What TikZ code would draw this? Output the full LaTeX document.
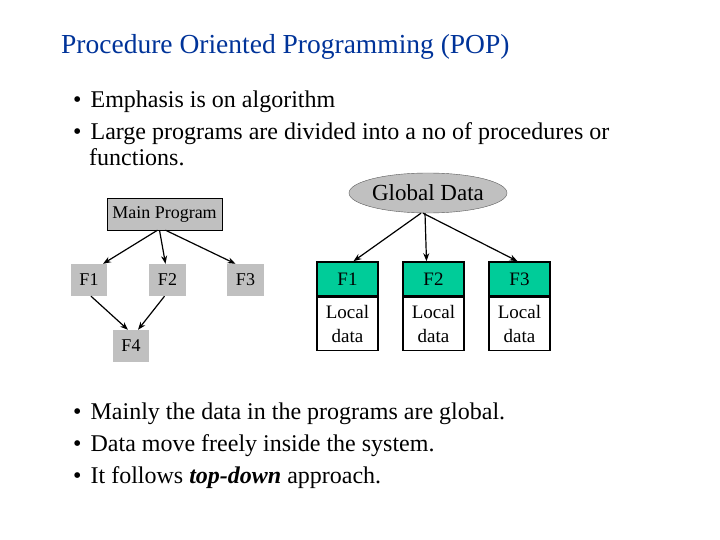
\documentclass[tikz,border=0pt]{standalone}
\usepackage{fontspec}
\setmainfont{Liberation Serif}
\usetikzlibrary{arrows.meta,shapes.geometric}
\definecolor{titleblue}{RGB}{0,51,153}
\definecolor{boxgray}{RGB}{192,192,192}
\definecolor{fgreen}{RGB}{0,204,153}
\begin{document}
\begin{tikzpicture}[x=1pt,y=-1pt,
  gbox/.style={fill=boxgray,inner sep=0pt,font=\fontsize{18}{20}\selectfont},
  arr/.style={-{Stealth[length=8pt,width=6pt]},line width=1.2pt},
  bul/.style={anchor=base west,inner sep=0pt,font=\fontsize{24}{28}\selectfont},
  loc/.style={draw,line width=1.6pt,inner sep=0pt,font=\fontsize{19}{24}\selectfont,align=center}]
\useasboundingbox (0,0) rectangle (720,540);
\node[anchor=base west,inner sep=0pt,text=titleblue,font=\fontsize{27.5}{32}\selectfont] (title) at (61,54) {Procedure Oriented Programming (POP)};
\node[bul] (b1) at (73,108) {•\hspace{9pt}Emphasis is on algorithm};
\node[bul] (b2) at (73,140) {•\hspace{9pt}Large programs are divided into a no of procedures or};
\node[bul] (b3) at (89,166) {functions.};
% left diagram
\node[gbox,draw,minimum width=115pt,minimum height=32pt] (mp) at (164.5,214) {Main Program};
\node[gbox,minimum width=36pt,minimum height=32pt] (f1) at (89,280) {F1};
\node[gbox,minimum width=37pt,minimum height=32pt] (f2) at (167.5,280) {F2};
\node[gbox,minimum width=37pt,minimum height=32pt] (f3) at (245.5,280) {F3};
\node[gbox,minimum width=36pt,minimum height=32pt] (f4) at (131,346) {F4};
\draw[arr] ([xshift=-7pt]mp.south) -- ([xshift=14pt]f1.north);
\draw[arr] ([xshift=-5pt]mp.south) -- ([xshift=-2pt]f2.north);
\draw[arr] ([xshift=1pt]mp.south) -- ([xshift=-10pt]f3.north);
\draw[arr] ([xshift=2pt]f1.south) -- ([xshift=-3pt]f4.north);
\draw[arr] ([xshift=-3pt]f2.south) -- ([xshift=7pt]f4.north);
% right diagram
\node[draw=gray!70!black,fill=boxgray,ellipse,minimum width=158pt,minimum height=40pt,inner sep=0pt,font=\fontsize{23}{26}\selectfont] (gd) at (428,193) {Global Data};
\foreach \n/\x in {1/347.5,2/433.5,3/519.5}{
  \node[loc,fill=fgreen,minimum width=61pt,minimum height=34pt] (h\n) at (\x,279) {F\n};
  \node[loc,anchor=north,minimum width=61pt,minimum height=53pt] (l\n) at (h\n.south) {Local\\data};
}
\draw[arr] ([xshift=-7pt]gd.south) -- ([xshift=6pt]h1.north);
\draw[arr] ([xshift=-3pt]gd.south) -- ([xshift=-7pt]h2.north);
\draw[arr] ([xshift=-5pt]gd.south) -- ([xshift=-2pt]h3.north);
\node[bul] (b4) at (73,419) {•\hspace{9pt}Mainly the data in the programs are global.};
\node[bul] (b5) at (73,451) {•\hspace{9pt}Data move freely inside the system.};
\node[bul] (b6) at (73,483) {•\hspace{9pt}It follows \textbf{\textit{top-down}} approach.};
\end{tikzpicture}
\end{document}
